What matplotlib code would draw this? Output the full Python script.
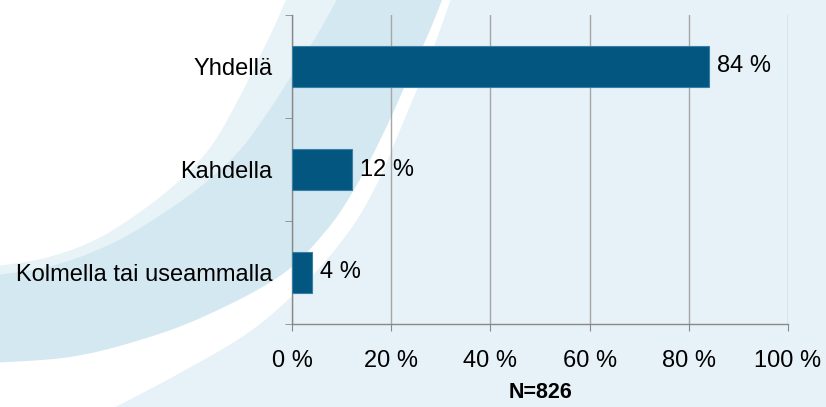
import matplotlib.pyplot as plt
from matplotlib.patches import Polygon
import numpy as np

plt.rcParams['font.family'] = ['Liberation Sans', 'DejaVu Sans']

categories = ['Yhdellä', 'Kahdella', 'Kolmella tai useammalla']
values = [84, 12, 4]
xticks = [0, 20, 40, 60, 80, 100]
xlabels = ['0 %', '20 %', '40 %', '60 %', '80 %', '100 %']
note = 'N=826'

W, H = 826, 407
bg_light = '#e6f2f8'
bg_dark = '#d4e8f1'
bar_color = '#02567f'

fig = plt.figure(figsize=(W / 100, H / 100), dpi=100)
fig.patch.set_facecolor(bg_light)

# decorative swooshes in the background, outline points in pixels (y down)
curve_a = [(290, -10), (275, 25), (258, 60), (238, 100), (212, 145), (180, 180), (140, 212),
           (95, 240), (45, 258), (-10, 267)]
curve_b = [(342, -10), (320, 30), (295, 70), (268, 112), (240, 150), (205, 183), (165, 212),
           (115, 242), (55, 265), (-10, 276)]
curve_c = [(446, -10), (430, 30), (412, 70), (385, 130), (355, 188), (325, 232), (280, 276),
           (205, 316), (140, 340), (70, 357), (-10, 363)]
curve_d = [(454, -10), (440, 30), (425, 70), (400, 130), (378, 182), (350, 230), (308, 280),
           (252, 330), (180, 373), (100, 415)]


def smooth(pts, n=12):
    # catmull-rom through the outline points
    p = np.array(pts, dtype=float)
    p = np.vstack([p[0], p, p[-1]])
    out = []
    for i in range(1, len(p) - 2):
        p0, p1, p2, p3 = p[i - 1], p[i], p[i + 1], p[i + 2]
        for t in np.linspace(0, 1, n, endpoint=False):
            out.append(0.5 * ((2 * p1) + (-p0 + p2) * t + (2 * p0 - 5 * p1 + 4 * p2 - p3) * t ** 2
                              + (-p0 + 3 * p1 - 3 * p2 + p3) * t ** 3))
    out.append(p[-2])
    return [tuple(q) for q in out]


def add_shape(pts, color):
    fig.add_artist(Polygon([(x / W, 1 - y / H) for x, y in pts], closed=True,
                           transform=fig.transFigure, facecolor=color, edgecolor='none', zorder=0))


add_shape([(-10, -10)] + smooth(curve_d) + [(-10, 415)], 'white')
add_shape([(-10, -10)] + smooth(curve_c), bg_dark)
add_shape([(-10, -10)] + smooth(curve_b), '#e8f3f8')
add_shape([(-10, -10)] + smooth(curve_a), 'white')

ax = fig.add_axes([292 / W, 1 - 324 / H, (788 - 292) / W, (324 - 15) / H])
ax.set_facecolor('none')
ax.set_zorder(2)

ypos = np.arange(len(categories))
ax.barh(ypos, values, height=0.4, color=bar_color, edgecolor='#3a7fa8', linewidth=0.8, zorder=3)
for y, v in zip(ypos, values):
    ax.annotate(f'{v} %', (v, y), xytext=(6, 0), textcoords='offset points',
                va='center', ha='left', fontsize=17, color='black')

ax.set_xlim(0, 100)
ax.set_ylim(len(categories) - 0.5, -0.5)
ax.set_xticks(xticks)
ax.set_xticklabels(xlabels, fontsize=17)
ax.set_yticks(ypos)
ax.set_yticklabels(categories, fontsize=17)
ax.set_yticks(np.arange(len(categories) + 1) - 0.5, minor=True)
ax.tick_params(axis='y', which='major', length=0, pad=14)
ax.tick_params(axis='y', which='minor', length=5, color='#888888', direction='out')
ax.tick_params(axis='x', which='major', length=5, color='#888888', direction='out', pad=14)

ax.grid(axis='x', color='#a6a6a6', linewidth=1, zorder=1)
ax.set_axisbelow(True)
for s in ['top', 'right']:
    ax.spines[s].set_visible(False)
for s in ['left', 'bottom']:
    ax.spines[s].set_color('#888888')
    ax.spines[s].set_linewidth(1)

ax.set_xlabel(note, fontsize=15.5, fontweight='bold', labelpad=7)

fig.savefig('out.png', dpi=100, facecolor=fig.get_facecolor())
